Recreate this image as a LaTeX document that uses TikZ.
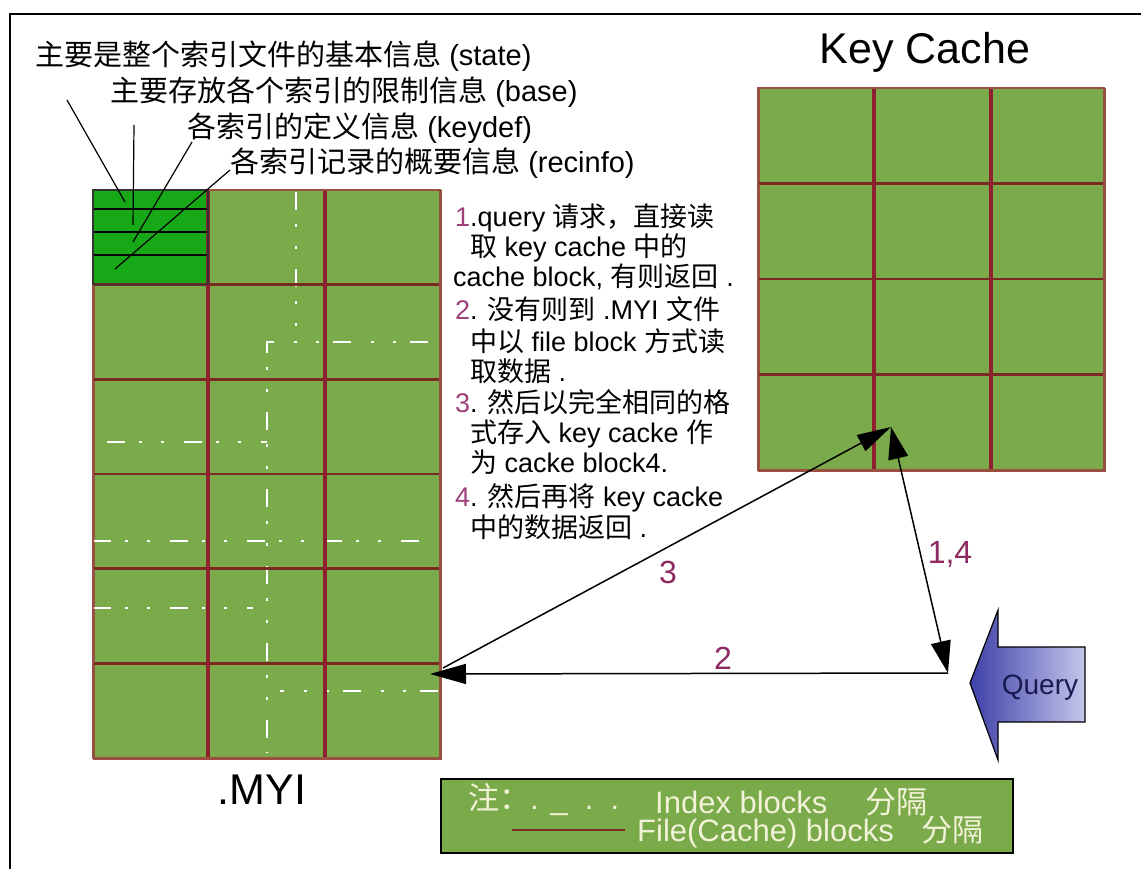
\documentclass[tikz,border=0pt]{standalone}
\usepackage{fontspec}
\setmainfont{Liberation Sans}
\newfontfamily\cjk{Noto Sans CJK SC}
\newcommand\C[1]{{\cjk #1}}
\usetikzlibrary{arrows.meta}
\definecolor{gfill}{HTML}{7AAA4A}
\definecolor{gbright}{HTML}{16A816}
\definecolor{gline}{HTML}{8E2030}
\definecolor{hline}{HTML}{7A2A22}
\definecolor{gborder}{HTML}{9A5040}
\definecolor{lbl}{HTML}{8E2A62}
\definecolor{numc}{HTML}{A0407A}
\definecolor{qdark}{HTML}{3D40A8}
\definecolor{qlight}{HTML}{C4C6EC}
\definecolor{qtext}{HTML}{1A1A50}
\definecolor{legtext}{HTML}{F2F2D8}
\tikzset{
  gridbox/.style={draw=gborder, line width=1.5pt, fill=gfill, inner sep=0pt, anchor=north west},
  hl/.style={hline, line width=2.5pt},
  vl/.style={gline, line width=4pt},
  idx/.style={white, line width=2pt, dash pattern=on 18pt off 14pt on 3pt off 19pt on 3pt off 20pt},
  topt/.style={font=\fontsize{29}{31}\selectfont, anchor=base west, inner sep=0pt},
  midt/.style={font=\fontsize{27}{29}\selectfont, anchor=base west, inner sep=0pt},
  legt/.style={font=\fontsize{31}{33}\selectfont, anchor=base west, inner sep=0pt, text=legtext},
  bigl/.style={font=\fontsize{43}{46}\selectfont, inner sep=0pt},
  numl/.style={font=\fontsize{32}{34}\selectfont, inner sep=0pt, text=lbl},
  ann/.style={black, line width=1.2pt},
  arr/.style={black, line width=1.5pt}
}
\begin{document}
\begin{tikzpicture}[x=1pt,y=-1pt]
\useasboundingbox (0,0) rectangle (1141,869);
\fill[white] (0,0) rectangle (1141,869);
% frame
\draw[line width=1.5pt] (10,869) -- (10,14) -- (1141,14);

% ---------- MYI grid ----------
\node[gridbox, minimum width=347pt, minimum height=568pt] (myi) at (93,190) {};
\fill[gbright] (93,190) rectangle (208,284.67);
% index block separators
\draw[idx] (296,192) -- (296,330);
\draw[idx] (428,342) -- (267,342) -- (267,753);
\draw[idx] (107,442) -- (267,442);
\draw[idx] (93,541) -- (430,541);
\draw[idx] (93,608) -- (253,608);
\draw[idx] (438,691) -- (280,691);
% file block separators
\foreach \y in {284.67,379.33,474,568.67,663.33} \draw[hl] (93,\y) -- (440,\y);
\foreach \x in {208,325} \draw[vl] (\x,190) -- (\x,758);
\draw[draw=gborder, line width=1.5pt] (93,190) rectangle (440,758);
% header cell sub-blocks
\foreach \y in {209,232,255} \draw[black, line width=2pt] (93,\y) -- (208,\y);
\draw[black!80, line width=1.5pt] (93,190) rectangle (208,284.67);
\node[bigl, anchor=center] (myilbl) at (262,790) {.MYI};

% ---------- annotations ----------
\node[topt] (t1) at (35,66) {\C{主要是整个索引文件的基本信息} (state)};
\node[topt] (t2) at (110,102) {\C{主要存放各个索引的限制信息} (base)};
\node[topt] (t3) at (187,138) {\C{各索引的定义信息} (keydef)};
\node[topt] (t4) at (230,173) {\C{各索引记录的概要信息} (recinfo)};
\coordinate (a1s) at (67,100);  \coordinate (a1e) at (125,202);
\coordinate (a2s) at (134,125); \coordinate (a2e) at (133,225);
\coordinate (a3s) at (192,142); \coordinate (a3e) at (133,242);
\coordinate (a4s) at (230,170); \coordinate (a4e) at (115,269);
\draw[ann] (a1s) -- (a1e);
\draw[ann] (a2s) -- (a2e);
\draw[ann] (a3s) -- (a3e);
\draw[ann] (a4s) -- (a4e);

% ---------- Key Cache grid ----------
\node[bigl, anchor=center] (kclbl) at (925,52) {Key Cache};
\node[gridbox, minimum width=346pt, minimum height=382pt] (kc) at (758,88) {};
\foreach \y in {183.5,279,374.5} \draw[hl] (758,\y) -- (1104,\y);
\foreach \x in {874,991} \draw[vl] (\x,88) -- (\x,470);
\draw[draw=gborder, line width=1.5pt] (758,88) rectangle (1104,470);

% ---------- steps text ----------
\node[midt] (s1) at (455,227) {\textcolor{numc}{1}.query \C{请求，直接读}};
\node[midt] (s1b) at (470,257) {\C{取} key cache \C{中的}};
\node[midt] (s1c) at (453,287) {cache block, \C{有则返回} .};
\node[midt] (s2) at (455,319) {\textcolor{numc}{2}. \C{没有则到} .MYI \C{文件}};
\node[midt] (s2b) at (470,351) {\C{中以} file block \C{方式读}};
\node[midt] (s2c) at (470,381) {\C{取数据} .};
\node[midt] (s3) at (455,412) {\textcolor{numc}{3}. \C{然后以完全相同的格}};
\node[midt] (s3b) at (470,442) {\C{式存入} key cacke \C{作}};
\node[midt] (s3c) at (470,472) {\C{为} cacke block4.};
\node[midt] (s4) at (455,506) {\textcolor{numc}{4}. \C{然后再将} key cacke};
\node[midt] (s4b) at (470,537) {\C{中的数据返回} .};

% ---------- arrows ----------
\coordinate (kcpt) at (891,427);
\coordinate (qpt) at (948,673);
\coordinate (myipt) at (430,674);
\coordinate (m3) at (443,668);
\draw[arr, {Triangle[length=32pt, width=20pt]}-{Triangle[length=32pt, width=20pt]}] (kcpt) -- (qpt);
\draw[arr, -{Triangle[length=36pt, width=20pt]}] (qpt) -- (myipt);
\draw[arr, -{Triangle[length=34pt, width=18pt]}] (m3) -- (kcpt);
\node[numl] (l3) at (668,572) {3};
\node[numl] (l2) at (723,658) {2};
\node[numl] (l14) at (950,555) {1,4};

% ---------- Query arrow ----------
\shade[left color=qdark, right color=qlight, draw=black, line width=1.2pt]
  (1085,647) -- (998,647) -- (998,610) -- (970,683) -- (998,760) -- (998,722) -- (1085,722) -- cycle;
\node[font=\fontsize{28}{30}\selectfont, text=qtext, inner sep=0pt] (query) at (1040,688) {Query};

% ---------- legend ----------
\node[draw=black, line width=2pt, fill=gfill, minimum width=572pt, minimum height=74pt, inner sep=0pt, anchor=north west] (leg) at (440,778) {};
\node[legt] (lg1) at (468,809) {\C{注：}. \_\ \ .\ \ .};
\node[legt] (lg2) at (655,813) {Index blocks\hspace{38pt}\C{分隔}};
\coordinate (lls) at (512,830); \coordinate (lle) at (625,830);
\draw[hline, line width=2.5pt] (lls) -- (lle);
\node[legt] (lg3) at (637,841) {File(Cache) blocks\hspace{28pt}\C{分隔}};
\end{tikzpicture}
\end{document}
